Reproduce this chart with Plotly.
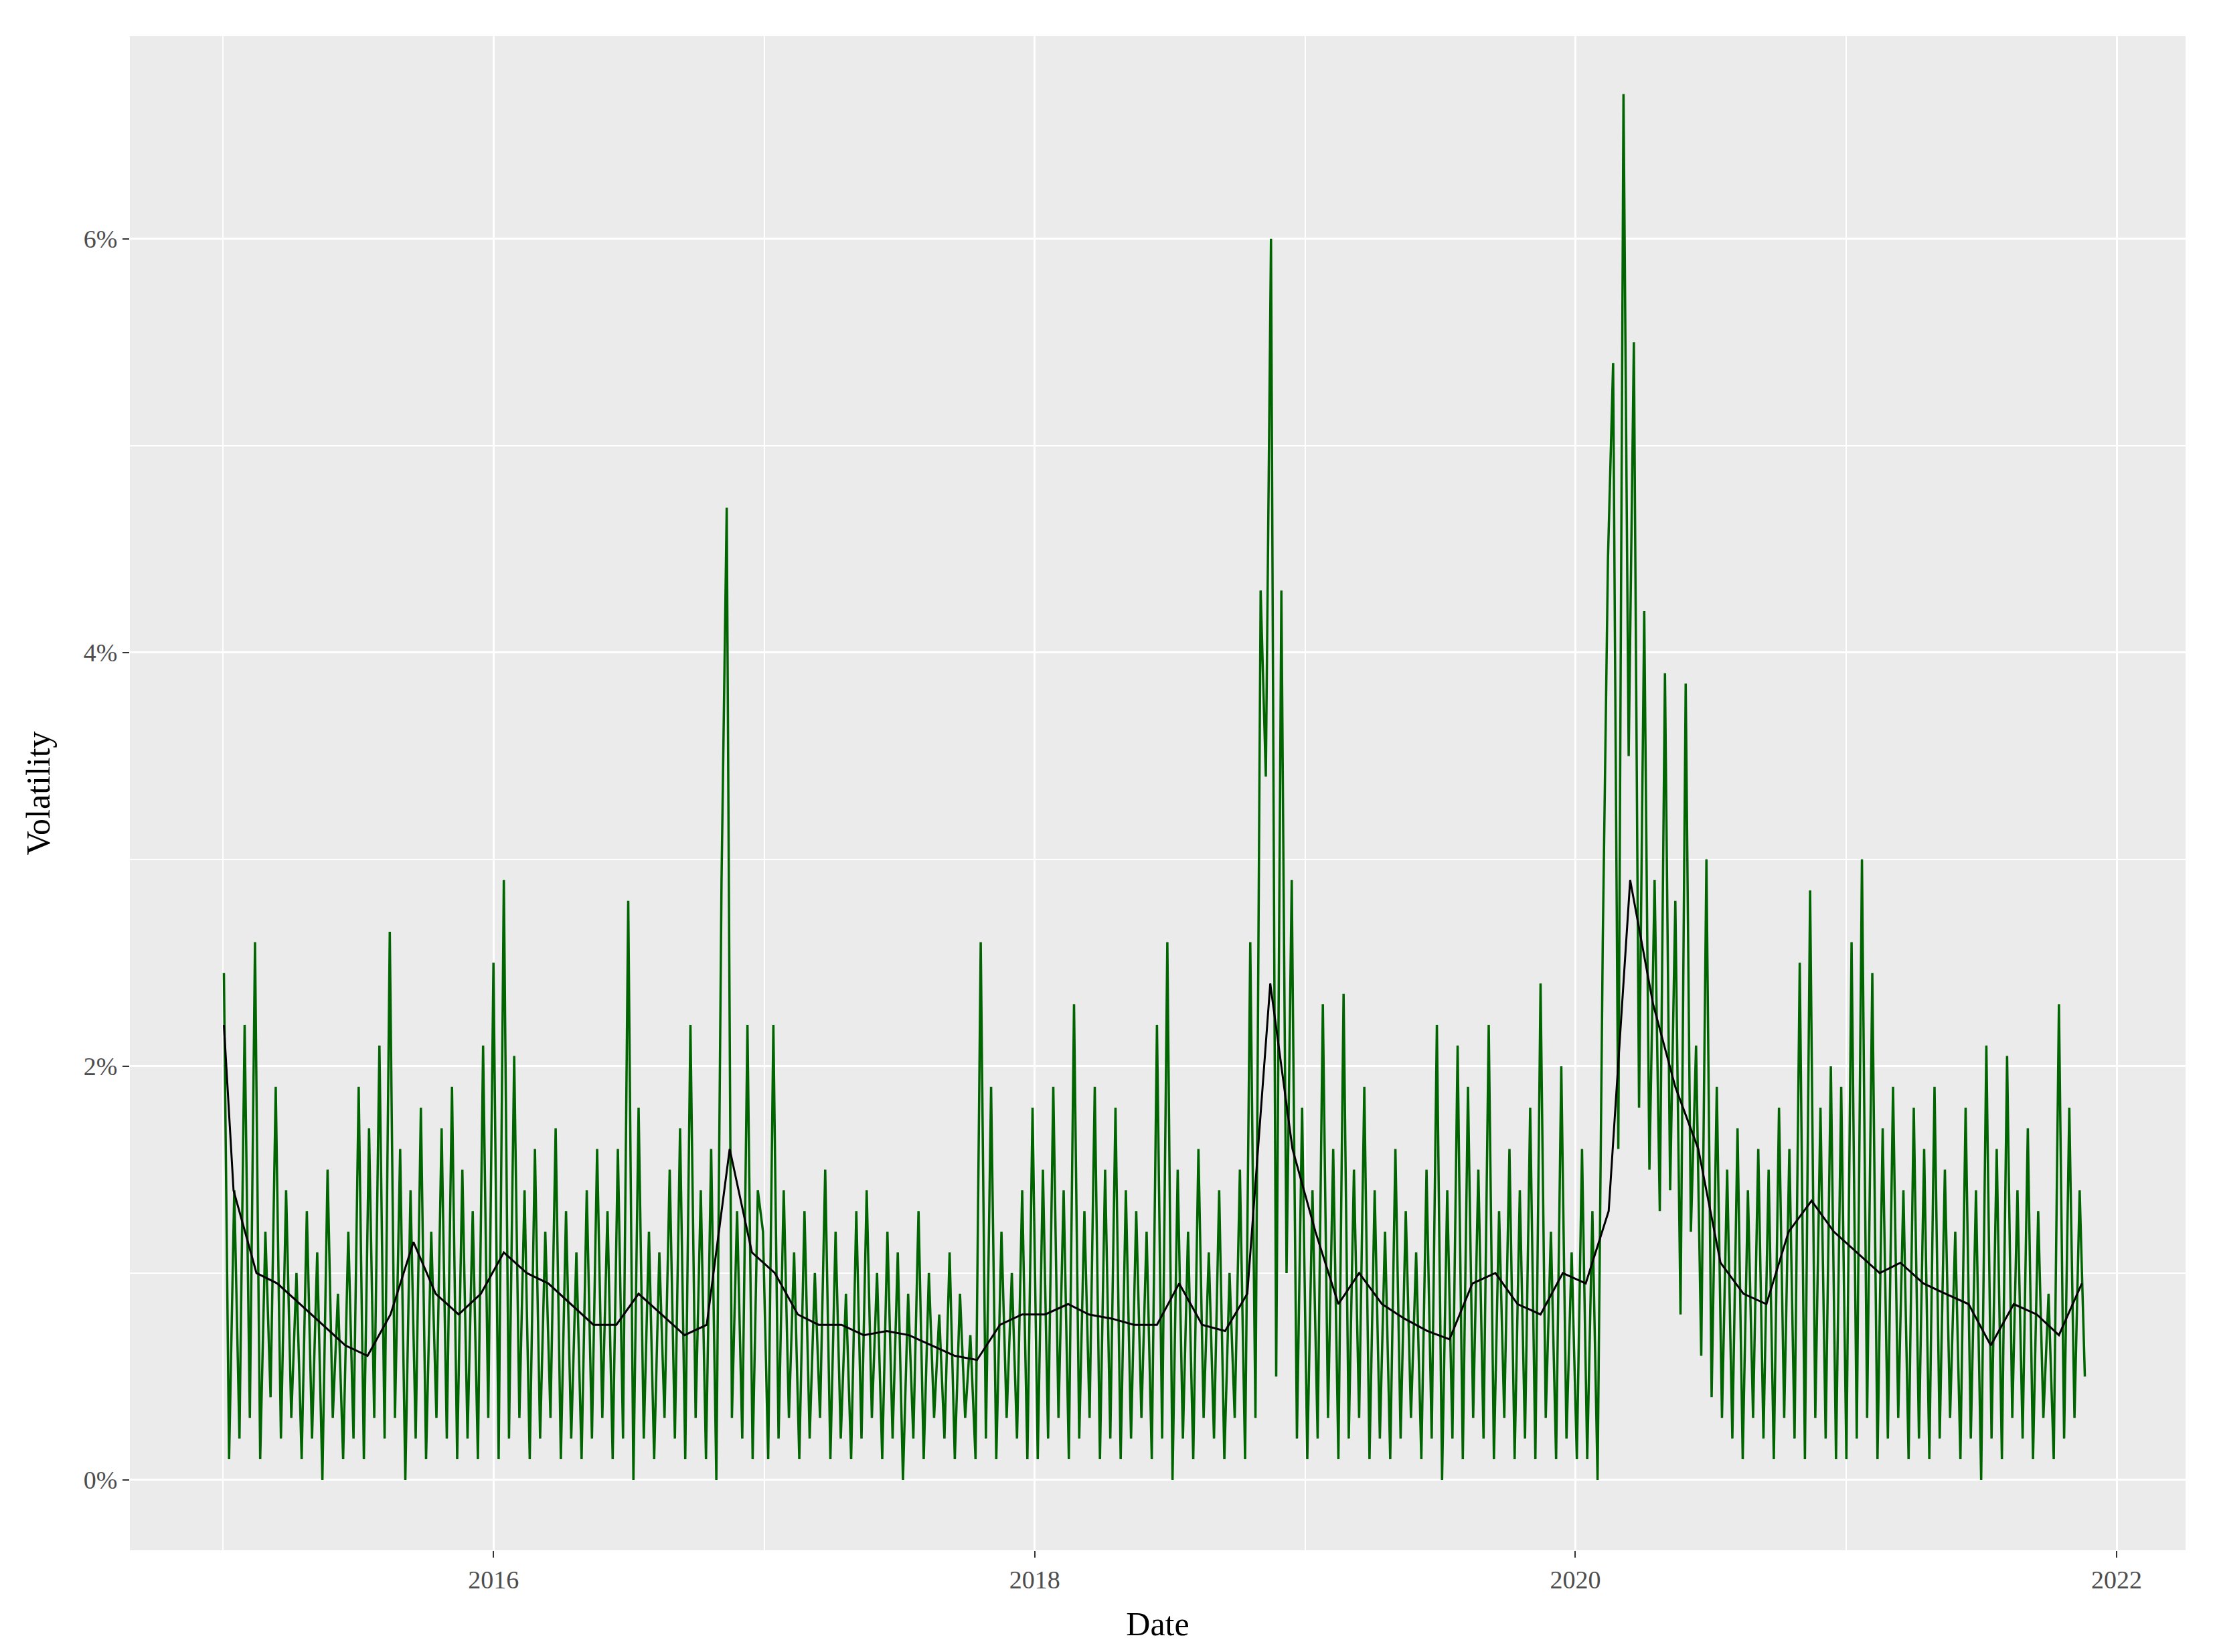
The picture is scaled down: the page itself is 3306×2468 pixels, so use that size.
import pandas as pd
import plotly.graph_objects as go

green_2015 = [2.45,0.1,1.4,0.2,2.2,0.3,2.6,0.1,1.2,0.4,1.9,0.2,1.4,0.3,1.0,0.1,1.3,0.2,1.1,0.0,1.5,0.3,0.9,0.1,1.2,0.2,1.9,0.1,1.7,0.3,2.1,0.2,2.65,0.3,1.6,0.0,1.4,0.2,1.8,0.1,1.2,0.3,1.7,0.2,1.9,0.1,1.5,0.2,1.3,0.1,2.1,0.3]
green_2016 = [2.5,0.1,2.9,0.2,2.05,0.3,1.4,0.1,1.6,0.2,1.2,0.3,1.7,0.1,1.3,0.2,1.1,0.1,1.4,0.2,1.6,0.3,1.3,0.1,1.6,0.2,2.8,0.0,1.8,0.2,1.2,0.1,1.1,0.3,1.5,0.2,1.7,0.1,2.2,0.3,1.4,0.1,1.6,0.0,2.9,4.7,0.3,1.3,0.2,2.2,0.1,1.4]
green_2017 = [1.2,0.1,2.2,0.2,1.4,0.3,1.1,0.1,1.3,0.2,1.0,0.3,1.5,0.1,1.2,0.2,0.9,0.1,1.3,0.2,1.4,0.3,1.0,0.1,1.2,0.2,1.1,0.0,0.9,0.2,1.3,0.1,1.0,0.3,0.8,0.2,1.1,0.1,0.9,0.3,0.7,0.1,2.6,0.2,1.9,0.1,1.2,0.3,1.0,0.2,1.4,0.1]
green_2018 = [1.8,0.1,1.5,0.2,1.9,0.3,1.4,0.1,2.3,0.2,1.3,0.3,1.9,0.1,1.5,0.2,1.8,0.1,1.4,0.2,1.3,0.3,1.2,0.1,2.2,0.2,2.6,0.0,1.5,0.2,1.2,0.1,1.6,0.3,1.1,0.2,1.4,0.1,1.0,0.3,1.5,0.1,2.6,0.3,4.3,3.4,6.0,0.5,4.3,1.0,2.9,0.2]
green_2019 = [1.8,0.1,1.4,0.2,2.3,0.3,1.6,0.1,2.35,0.2,1.5,0.3,1.9,0.1,1.4,0.2,1.2,0.1,1.6,0.2,1.3,0.3,1.1,0.1,1.5,0.2,2.2,0.0,1.4,0.2,2.1,0.1,1.9,0.3,1.5,0.2,2.2,0.1,1.3,0.3,1.6,0.1,1.4,0.2,1.8,0.1,2.4,0.3,1.2,0.1,2.0,0.2]
green_2020 = [1.1,0.1,1.6,0.1,1.3,0.0,2.6,4.45,5.4,1.6,6.7,3.5,5.5,1.8,4.2,1.5,2.9,1.3,3.9,1.4,2.8,0.8,3.85,1.2,2.1,0.6,3.0,0.4,1.9,0.3,1.5,0.2,1.7,0.1,1.4,0.3,1.6,0.2,1.5,0.1,1.8,0.3,1.6,0.2,2.5,0.1,2.85,0.3,1.8,0.2,2.0,0.1]
green_2021 = [1.9,0.1,2.6,0.2,3.0,0.3,2.45,0.1,1.7,0.2,1.9,0.3,1.4,0.1,1.8,0.2,1.6,0.1,1.9,0.2,1.5,0.3,1.2,0.1,1.8,0.2,1.4,0.0,2.1,0.2,1.6,0.1,2.05,0.3,1.4,0.2,1.7,0.1,1.3,0.3,0.9,0.1,2.3,0.2,1.8,0.3,1.4,0.5]

black_start = 2.2
black_2015 = [1.4,1.0,0.95,0.85,0.75,0.65,0.6,0.8,1.15,0.9,0.8,0.9]
black_2016 = [1.1,1.0,0.95,0.85,0.75,0.75,0.9,0.8,0.7,0.75,1.6,1.1]
black_2017 = [1.0,0.8,0.75,0.75,0.7,0.72,0.7,0.65,0.6,0.58,0.75,0.8]
black_2018 = [0.8,0.85,0.8,0.78,0.75,0.75,0.95,0.75,0.72,0.9,2.4,1.6]
black_2019 = [1.2,0.85,1.0,0.85,0.78,0.72,0.68,0.95,1.0,0.85,0.8,1.0]
black_2020 = [0.95,1.3,2.9,2.3,1.9,1.6,1.05,0.9,0.85,1.2,1.35,1.2]
black_2021 = [1.1,1.0,1.05,0.95,0.9,0.85,0.65,0.85,0.8,0.7,0.95]

green = green_2015+green_2016+green_2017+green_2018+green_2019+green_2020+green_2021
gdates = pd.date_range("2015-01-02", periods=len(green), freq="7D")
black = [black_start]+black_2015+black_2016+black_2017+black_2018+black_2019+black_2020+black_2021
bm = pd.date_range("2015-01-01", periods=len(black)-1, freq="MS") + pd.Timedelta(days=14)
bdates = [pd.Timestamp("2015-01-02")] + list(bm)

fig = go.Figure()
fig.add_trace(go.Scatter(x=gdates, y=[v/100 for v in green], mode="lines",
                         line=dict(color="#006400", width=3.5), showlegend=False))
fig.add_trace(go.Scatter(x=bdates, y=[v/100 for v in black], mode="lines",
                         line=dict(color="#000000", width=3), showlegend=False))

font = "Liberation Serif"
fig.update_layout(
    width=3306, height=2468, paper_bgcolor="white", plot_bgcolor="#EBEBEB",
    margin=dict(l=186, r=49, t=46, b=160),
    font=dict(family=font, color="#000"),
)
fig.update_xaxes(range=["2014-08-28", "2022-04-04"],
                 tickvals=["2016-01-01", "2018-01-01", "2020-01-01", "2022-01-01"],
                 ticktext=["2016", "2018", "2020", "2022"],
                 tickfont=dict(size=38, color="#4D4D4D", family=font),
                 gridcolor="white", gridwidth=3, showline=False, zeroline=False,
                 ticks="outside", ticklen=10, tickcolor="#333", tickwidth=2,
                 minor=dict(tickvals=["2015-01-01", "2017-01-01", "2019-01-01", "2021-01-01"],
                            gridcolor="white", gridwidth=1.5, showgrid=True),
                 title=dict(text="Date", font=dict(size=50, family=font), standoff=28))
fig.update_yaxes(range=[-0.0034, 0.0698],
                 tickvals=[0, 0.02, 0.04, 0.06], ticktext=["0%", "2%", "4%", "6%"],
                 tickfont=dict(size=38, color="#4D4D4D", family=font),
                 gridcolor="white", gridwidth=3, showline=False, zeroline=False,
                 ticks="outside", ticklen=10, tickcolor="#333", tickwidth=2,
                 minor=dict(tickvals=[0.01, 0.03, 0.05], gridcolor="white", gridwidth=1.5, showgrid=True),
                 title=dict(text="Volatility", font=dict(size=50, family=font), standoff=34))
fig.write_html("out.html")
